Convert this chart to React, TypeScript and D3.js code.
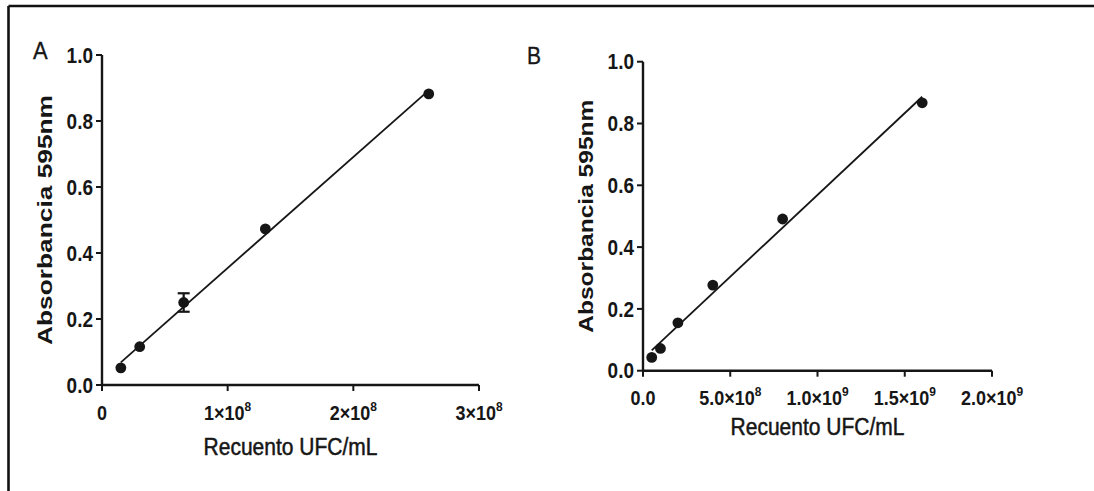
import React from "react";
import * as d3 from "d3";

// Panel A: standard curve, counts up to 3×10^8 UFC/mL
const countsA = [1.5e7, 3.0e7, 6.5e7, 1.3e8, 2.6e8];
const absA = [0.052, 0.116, 0.25, 0.473, 0.882];
const errA = [0, 0, 0.028, 0, 0];
const xTicksA = [
  { value: 0, base: "0", exp: "" },
  { value: 1e8, base: "1×10", exp: "8" },
  { value: 2e8, base: "2×10", exp: "8" },
  { value: 3e8, base: "3×10", exp: "8" },
];

// Panel B: standard curve, counts up to 2×10^9 UFC/mL
const countsB = [5e7, 1e8, 2e8, 4e8, 8e8, 1.6e9];
const absB = [0.043, 0.072, 0.155, 0.277, 0.491, 0.867];
const errB = [0, 0, 0, 0, 0, 0];
const xTicksB = [
  { value: 0, base: "0.0", exp: "" },
  { value: 5e8, base: "5.0×10", exp: "8" },
  { value: 1e9, base: "1.0×10", exp: "9" },
  { value: 1.5e9, base: "1.5×10", exp: "9" },
  { value: 2e9, base: "2.0×10", exp: "9" },
];

const yTicks = [0, 0.2, 0.4, 0.6, 0.8, 1.0];

const FONT = "'Liberation Sans', Arial, Helvetica, sans-serif";
const INK = "#161616";

type Tick = { value: number; base: string; exp: string };

type PanelProps = {
  letter: string;
  letterSize: number;
  letterPos: [number, number];
  xs: number[];
  ys: number[];
  errs: number[];
  xTicks: Tick[];
  xDomain: [number, number];
  xRange: [number, number];
  yRange: [number, number];
  xTickBaseline: number;
  xTitleBaseline: number;
  yTitleX: number;
  yTitleLength: number;
};

function linearFit(xs: number[], ys: number[]) {
  const mx = d3.mean(xs) as number;
  const my = d3.mean(ys) as number;
  let sxy = 0;
  let sxx = 0;
  xs.forEach((x, i) => {
    sxy += (x - mx) * (ys[i] - my);
    sxx += (x - mx) * (x - mx);
  });
  const slope = sxy / sxx;
  return { slope, intercept: my - slope * mx };
}

// horizontal labels are slightly taller than the plain font
const tall = (x: number, y: number) => `translate(${x},${y}) scale(1,1.12)`;

function Panel(p: PanelProps) {
  const x = d3.scaleLinear().domain(p.xDomain).range(p.xRange);
  const y = d3.scaleLinear().domain([0, 1]).range(p.yRange);
  const fmt = d3.format(".1f");
  const fit = linearFit(p.xs, p.ys);
  const [xmin, xmax] = d3.extent(p.xs) as [number, number];
  const fitLine = d3
    .line<number>()
    .x((v) => x(v))
    .y((v) => y(fit.intercept + fit.slope * v))([xmin, xmax]);

  const x0 = p.xRange[0];
  const x1 = p.xRange[1];
  const yBottom = p.yRange[0];
  const yTop = p.yRange[1];
  const tickLen = 6;
  const yMid = (yBottom + yTop) / 2;

  return (
    <g>
      <text
        transform={tall(p.letterPos[0], p.letterPos[1])}
        fontFamily={FONT}
        fontSize={p.letterSize}
        fill={INK}
        stroke={INK}
        strokeWidth={0.3}
      >
        {p.letter}
      </text>

      {/* axes */}
      <line x1={x0} x2={x0} y1={yTop} y2={yBottom} stroke={INK} strokeWidth={2.4} />
      <line x1={x0} x2={x1} y1={yBottom} y2={yBottom} stroke={INK} strokeWidth={2.4} />

      {yTicks.map((t) => (
        <g key={"y" + t}>
          <line x1={x0 - tickLen} x2={x0} y1={y(t)} y2={y(t)} stroke={INK} strokeWidth={2} />
          <text
            transform={tall(x0 - tickLen - 3, y(t) + 7.6)}
            textAnchor="end"
            fontFamily={FONT}
            fontWeight="bold"
            fontSize={19}
            fill={INK}
          >
            {fmt(t)}
          </text>
        </g>
      ))}

      {p.xTicks.map((t) => (
        <g key={"x" + t.value}>
          <line x1={x(t.value)} x2={x(t.value)} y1={yBottom} y2={yBottom + tickLen} stroke={INK} strokeWidth={2} />
          <text
            transform={tall(x(t.value), p.xTickBaseline)}
            textAnchor="middle"
            fontFamily={FONT}
            fontWeight="bold"
            fontSize={18}
            fill={INK}
          >
            {t.base}
            {t.exp && (
              <tspan fontSize={12} dy={-8}>
                {t.exp}
              </tspan>
            )}
          </text>
        </g>
      ))}

      <text
        transform={tall((x0 + x1) / 2, p.xTitleBaseline)}
        textAnchor="middle"
        fontFamily={FONT}
        fontSize={21}
        fill={INK}
        stroke={INK}
        strokeWidth={0.45}
      >
        Recuento UFC/mL
      </text>

      <text
        transform={`translate(${p.yTitleX},${yMid}) rotate(-90)`}
        textAnchor="middle"
        dy="0.36em"
        fontFamily={FONT}
        fontWeight="bold"
        fontSize={20.5}
        fill={INK}
        textLength={p.yTitleLength}
        lengthAdjust="spacingAndGlyphs"
      >
        Absorbancia 595nm
      </text>

      {/* regression line */}
      <path d={fitLine ?? ""} fill="none" stroke={INK} strokeWidth={1.8} />

      {/* error bars */}
      {p.xs.map((v, i) =>
        p.errs[i] > 0 ? (
          <g key={"e" + i} stroke={INK} strokeWidth={2.2}>
            <line x1={x(v)} x2={x(v)} y1={y(p.ys[i] - p.errs[i])} y2={y(p.ys[i] + p.errs[i])} />
            <line x1={x(v) - 6} x2={x(v) + 6} y1={y(p.ys[i] - p.errs[i])} y2={y(p.ys[i] - p.errs[i])} />
            <line x1={x(v) - 6} x2={x(v) + 6} y1={y(p.ys[i] + p.errs[i])} y2={y(p.ys[i] + p.errs[i])} />
          </g>
        ) : null
      )}

      {/* measured points */}
      {p.xs.map((v, i) => (
        <circle key={"p" + i} cx={x(v)} cy={y(p.ys[i])} r={5.4} fill={INK} />
      ))}
    </g>
  );
}

export default function App() {
  return (
    <svg
      width={1094}
      height={491}
      viewBox="0 0 1094 491"
      style={{ position: "fixed", left: 0, top: 0, background: "#fff", display: "block" }}
    >
      <rect x={0} y={0} width={1094} height={491} fill="#fff" />
      {/* frame */}
      <line x1={8.5} x2={1094} y1={6} y2={6} stroke="#111" strokeWidth={2.6} />
      <line x1={8.5} x2={8.5} y1={6} y2={491} stroke="#111" strokeWidth={2.6} />

      <Panel
        letter="A"
        letterSize={22}
        letterPos={[33, 59]}
        xs={countsA}
        ys={absA}
        errs={errA}
        xTicks={xTicksA}
        xDomain={[0, 3e8]}
        xRange={[102, 479]}
        yRange={[385, 55]}
        xTickBaseline={420}
        xTitleBaseline={455}
        yTitleX={44.5}
        yTitleLength={250}
      />
      <Panel
        letter="B"
        letterSize={21}
        letterPos={[527, 64]}
        xs={countsB}
        ys={absB}
        errs={errB}
        xTicks={xTicksB}
        xDomain={[0, 2e9]}
        xRange={[643, 992]}
        yRange={[370.7, 61.7]}
        xTickBaseline={405}
        xTitleBaseline={435}
        yTitleX={586}
        yTitleLength={233}
      />
    </svg>
  );
}
